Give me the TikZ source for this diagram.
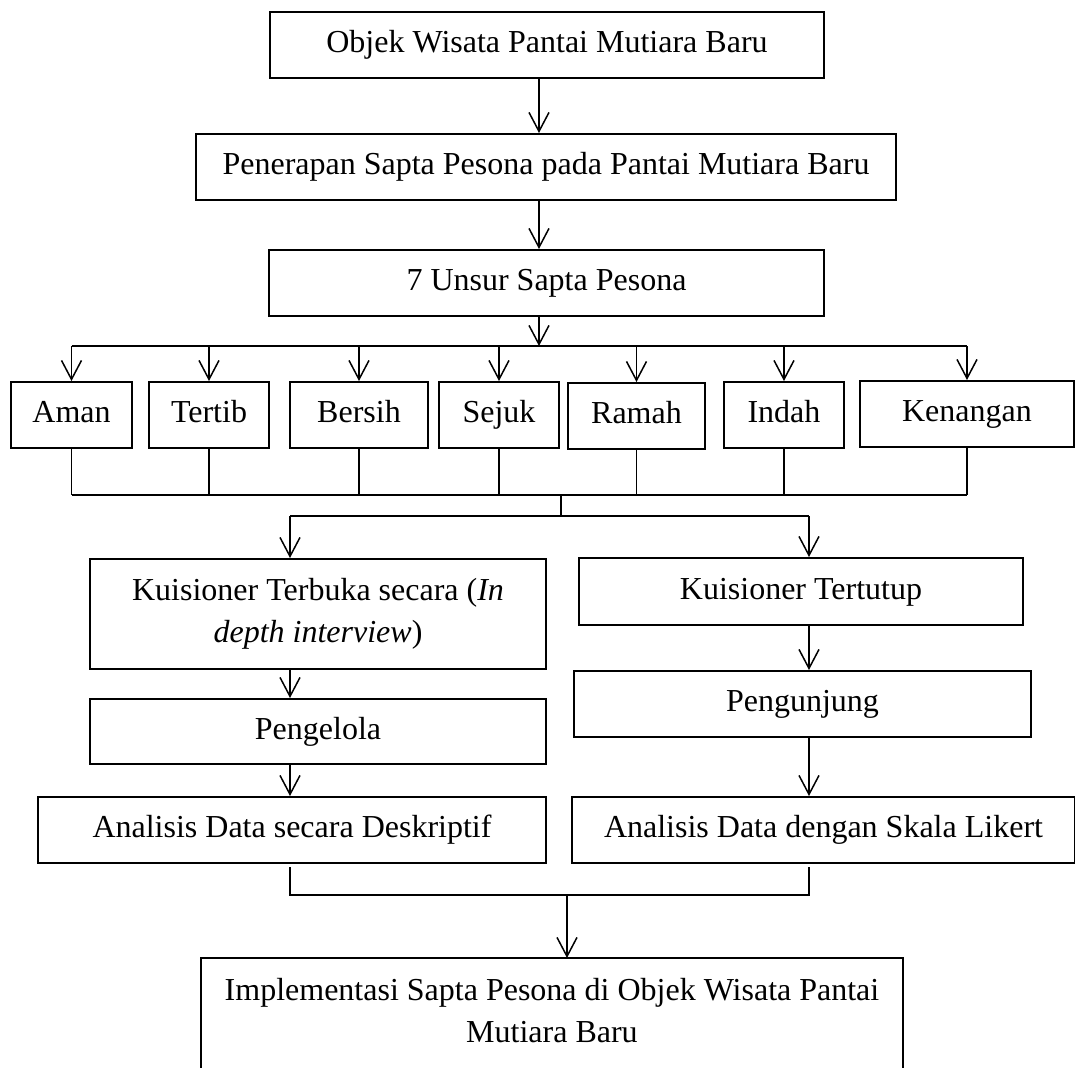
\documentclass[tikz,border=0pt]{standalone}
\usepackage{fontspec}
\setmainfont{Liberation Serif}
\usetikzlibrary{arrows.meta}

\tikzset{
  box/.style 2 args={draw, line width=0.8pt, minimum width={#1*0.4pt},
    minimum height={#2*0.4pt}, inner sep=0pt, align=center,
    font=\fontsize{12.8}{16.8}\selectfont},
  oneline/.style={text height=9pt, text depth=2.8pt},
  arr/.style={-{Straight Barb[length=7.6pt,width=8pt]}, line width=0.6pt},
  link/.style={line width=0.6pt}
}

\begin{document}
\begin{tikzpicture}[x=0.4pt, y=-0.4pt]
  \useasboundingbox (0,0) rectangle (1075,1068);

  % Top chain
  \node[box={554}{66}, oneline] (objek) at (547,45) {Objek Wisata Pantai Mutiara Baru};
  \node[box={700}{66}, oneline] (penerapan) at (546,167) {Penerapan Sapta Pesona pada Pantai Mutiara Baru};
  \node[box={555}{66}, oneline] (unsur) at (546.5,283) {7 Unsur Sapta Pesona};

  \coordinate (col) at (539,0);
  \draw[arr] (objek.south -| col) -- (penerapan.north -| col);
  \draw[arr] (penerapan.south -| col) -- (unsur.north -| col);

  % Seven elements
  \node[box={121}{66}, oneline] (aman) at (71.5,415) {Aman};
  \node[box={120}{66}, oneline] (tertib) at (209,415) {Tertib};
  \node[box={138}{66}, oneline] (bersih) at (359,415) {Bersih};
  \node[box={120}{66}, oneline] (sejuk) at (499,415) {Sejuk};
  \node[box={137}{66}, oneline] (ramah) at (636.5,416) {Ramah};
  \node[box={120}{66}, oneline] (indah) at (784,415) {Indah};
  \node[box={214}{66}, oneline] (kenangan) at (967,414) {Kenangan};

  \coordinate (bustop) at (0,346);
  \coordinate (busmid) at (0,495);
  \draw[arr] (unsur.south -| col) -- (col |- bustop);
  \draw[link] (aman.north |- bustop) -- (kenangan.north |- bustop);
  \draw[link] (aman.south |- busmid) -- (kenangan.south |- busmid);
  \foreach \n in {aman,tertib,bersih,sejuk,ramah,indah,kenangan} {
    \draw[arr] (\n.north |- bustop) -- (\n.north);
    \draw[link] (\n.south) -- (\n.south |- busmid);
  }

  % Two branches
  \node[box={456}{110}] (terbuka) at (318,614)
    {Kuisioner Terbuka secara (\textit{In}\\\textit{depth interview})};
  \node[box={444}{67}, oneline] (tertutup) at (801,591.5) {Kuisioner Tertutup};
  \node[box={456}{65}, oneline] (pengelola) at (318,731.5) {Pengelola};
  \node[box={457}{66}, oneline] (pengunjung) at (802.5,704) {Pengunjung};
  \node[box={508}{66}, oneline] (deskriptif) at (292,830) {Analisis Data secara Deskriptif};
  \node[box={503}{66}, oneline] (likert) at (823.5,830) {Analisis Data dengan Skala Likert};

  \coordinate (left) at (290,0);
  \coordinate (right) at (809,0);
  \coordinate (split) at (561,516);
  \draw[link] (split |- busmid) -- (split);
  \draw[link] (left |- split) -- (right |- split);
  \draw[arr] (left |- split) -- (terbuka.north -| left);
  \draw[arr] (right |- split) -- (tertutup.north -| right);
  \draw[arr] (terbuka.south -| left) -- (pengelola.north -| left);
  \draw[arr] (pengelola.south -| left) -- (deskriptif.north -| left);
  \draw[arr] (tertutup.south -| right) -- (pengunjung.north -| right);
  \draw[arr] (pengunjung.south -| right) -- (likert.north -| right);

  % Join and result
  \coordinate (join) at (567,895);
  \coordinate (gapl) at (290,867);
  \coordinate (gapr) at (809,867);
  \draw[link] (gapl) -- (gapl |- join) -- (gapr |- join) -- (gapr);

  \node[box={700}{104}, draw=none] (hasil) at (552,1011)
    {Implementasi Sapta Pesona di Objek Wisata Pantai\\Mutiara Baru};
  \coordinate (floor) at (0,1075);
  \draw[line width=0.8pt] (hasil.south west |- floor) -- (hasil.north west)
    -- (hasil.north east) -- (hasil.south east |- floor);
  \draw[arr] (join) -- (join |- hasil.north);
\end{tikzpicture}
\end{document}
